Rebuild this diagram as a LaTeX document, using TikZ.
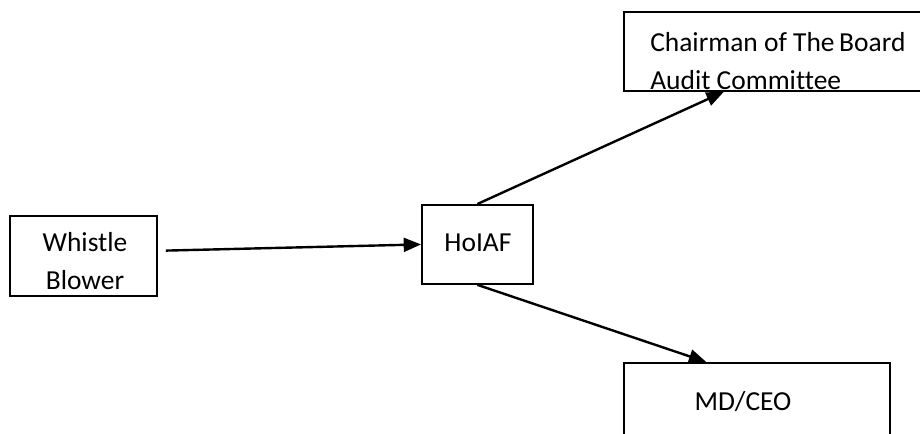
\documentclass[tikz,border=0pt]{standalone}
\usepackage{fontspec}
\setmainfont{Carlito}[Ligatures=NoCommon]
\usetikzlibrary{arrows.meta}

\tikzset{
  box/.style={draw, line width=1.4pt, inner sep=0pt, anchor=north west},
  txt/.style={inner sep=0pt, font=\fontsize{20.6}{28}\selectfont},
  arr/.style={line width=1.8pt, -{Triangle[length=13pt,width=10.5pt]}}
}

\begin{document}
\begin{tikzpicture}[x=0.75pt,y=-0.75pt]
  \useasboundingbox (0,0) rectangle (920,434);
  \clip (0,0) rectangle (920,434);

  % boxes
  \node[box, minimum width=110.25pt, minimum height=60pt] (whistle) at (9,215) {};
  \node[box, minimum width=83.25pt, minimum height=59.25pt] (hoiaf) at (421,204) {};
  \node[box, minimum width=237.75pt, minimum height=59.25pt] (chair) at (623,11) {};
  \node[box, minimum width=199.5pt, minimum height=66pt] (mdceo) at (623,362) {};

  % texts
  \node[txt, align=center] (whistletxt) at (85,261) {Whistle\\Blower};
  \node[txt] (hoiaftxt) at (478,243) {HoIAF};
  \node[txt, align=left, anchor=west] (chairtxt) at (650,61) {Chairman of The\,Board\\Audit Committee};
  \node[txt] (mdceotxt) at (743,402) {MD/CEO};

  % arrows
  \draw[arr] ([xshift=6pt,yshift=4pt]whistle.east) -- (hoiaf.west);
  \draw[arr] (hoiaf.north) -- ([xshift=-44pt]chair.south);
  \draw[arr] (hoiaf.south) -- ([xshift=-38pt]mdceo.north);
\end{tikzpicture}
\end{document}
